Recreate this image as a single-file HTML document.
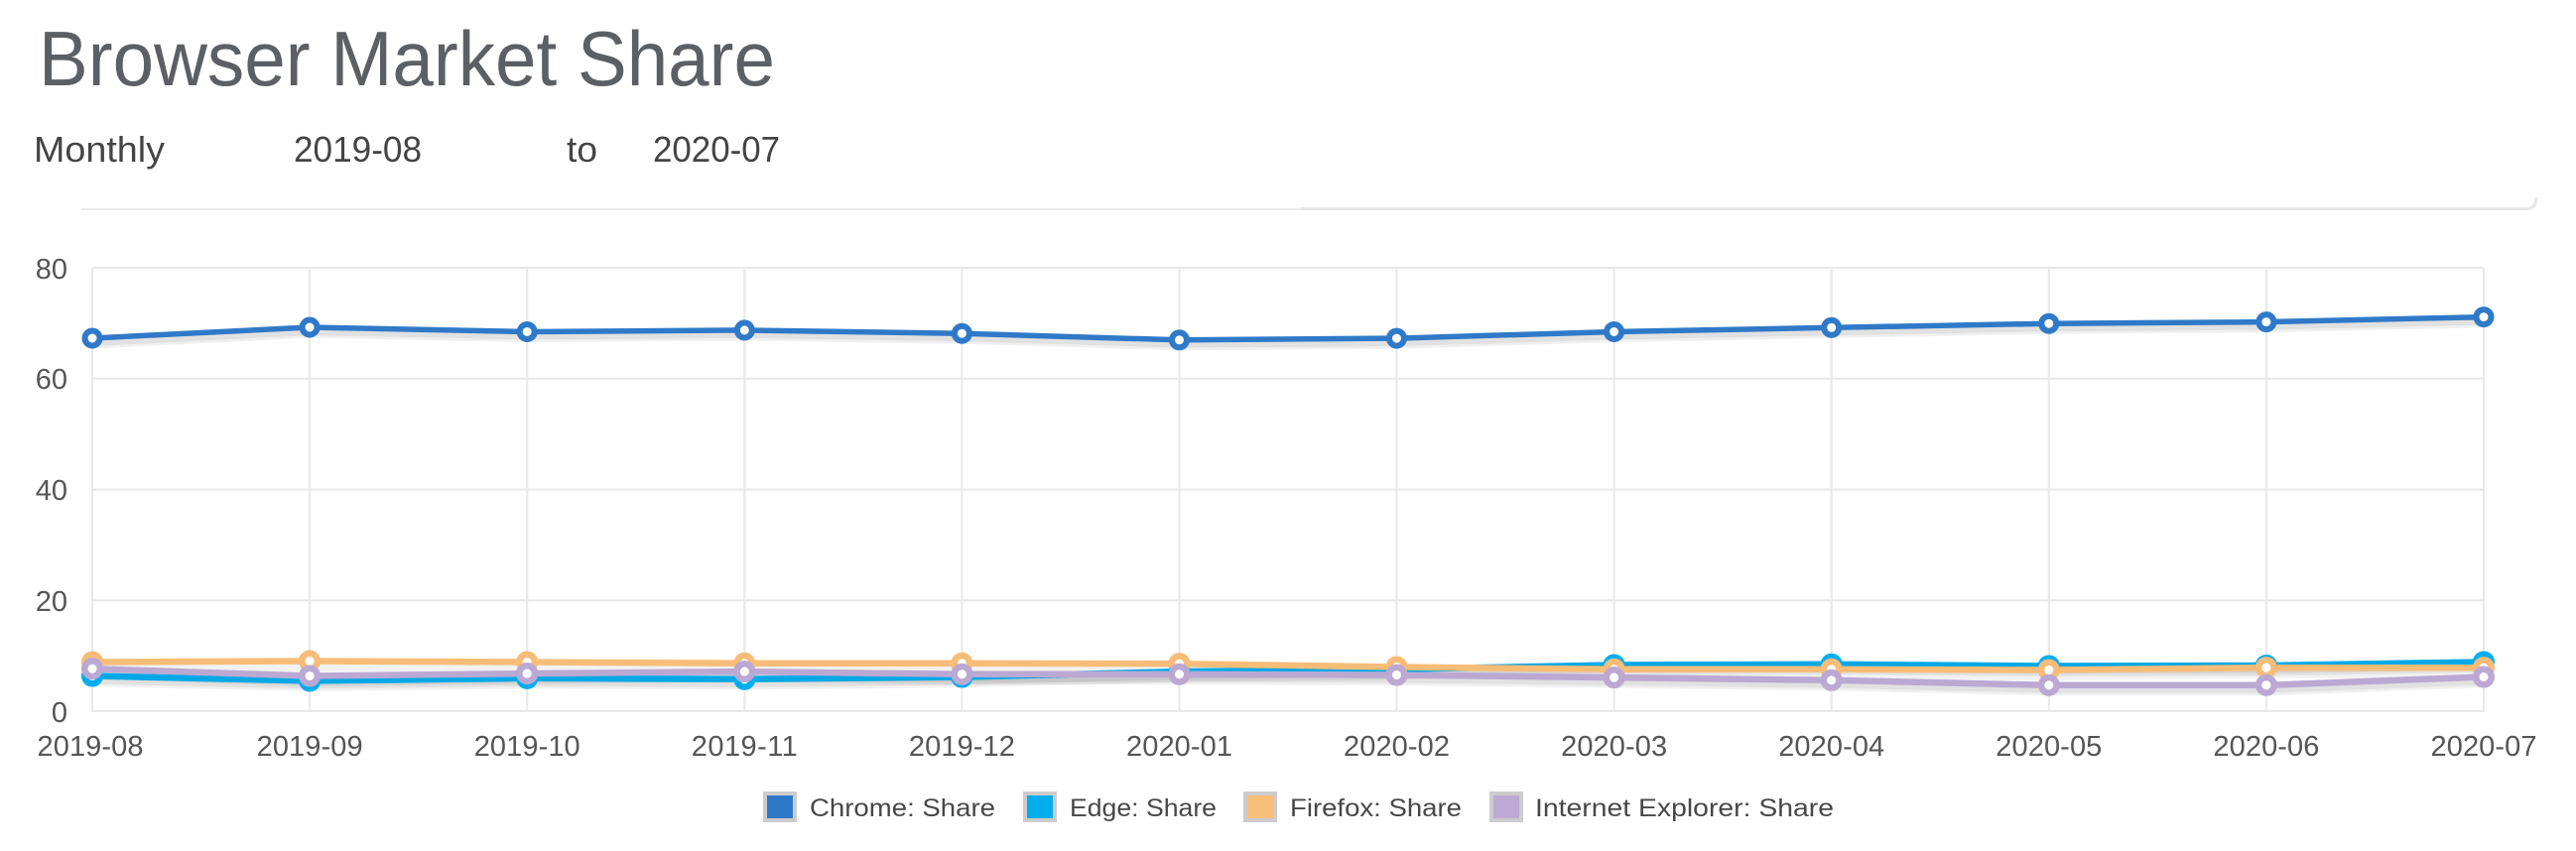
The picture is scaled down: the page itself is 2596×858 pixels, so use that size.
<!DOCTYPE html>
<html>
<head>
<meta charset="utf-8">
<style>
  html, body { margin: 0; padding: 0; background: #ffffff; }
  body { width: 2596px; height: 858px; overflow: hidden; }
  svg { display: block; }
  text { font-family: "Liberation Sans", "DejaVu Sans", sans-serif; }
</style>
</head>
<body>
<svg width="2596" height="858" viewBox="0 0 2596 858" xmlns="http://www.w3.org/2000/svg">
  <rect x="0" y="0" width="2596" height="858" fill="#ffffff"/>

  <!-- Title -->
  <text x="39" y="86" font-size="78" fill="#5c5f63" textLength="742" lengthAdjust="spacingAndGlyphs">Browser Market Share</text>

  <!-- Subtitle row -->
  <text x="34" y="163" font-size="36" fill="#444444" textLength="132" lengthAdjust="spacingAndGlyphs">Monthly</text>
  <text x="296" y="163" font-size="36" fill="#444444" textLength="129" lengthAdjust="spacingAndGlyphs">2019-08</text>
  <text x="571" y="163" font-size="36" fill="#444444" textLength="31" lengthAdjust="spacingAndGlyphs">to</text>
  <text x="658" y="163" font-size="36" fill="#444444" textLength="128" lengthAdjust="spacingAndGlyphs">2020-07</text>

  <!-- separator lines -->
  <line x1="82" y1="211" x2="1311" y2="211" stroke="#ececec" stroke-width="2"/>
  <path d="M1311 210.5 H2545 Q2556 210.5 2556 199" fill="none" stroke="#e6e6e6" stroke-width="3"/>

  <!-- Gridlines -->
  <g stroke="#e8e8e8" stroke-width="2" fill="none">
    <line x1="93" y1="270" x2="2503" y2="270"/>
    <line x1="93" y1="381.8" x2="2503" y2="381.8"/>
    <line x1="93" y1="493.5" x2="2503" y2="493.5"/>
    <line x1="93" y1="605.3" x2="2503" y2="605.3"/>
    <line x1="93" y1="717" x2="2503" y2="717"/>
    <line x1="93" y1="270" x2="93" y2="717"/>
    <line x1="312.1" y1="270" x2="312.1" y2="717"/>
    <line x1="531.2" y1="270" x2="531.2" y2="717"/>
    <line x1="750.3" y1="270" x2="750.3" y2="717"/>
    <line x1="969.4" y1="270" x2="969.4" y2="717"/>
    <line x1="1188.5" y1="270" x2="1188.5" y2="717"/>
    <line x1="1407.5" y1="270" x2="1407.5" y2="717"/>
    <line x1="1626.6" y1="270" x2="1626.6" y2="717"/>
    <line x1="1845.7" y1="270" x2="1845.7" y2="717"/>
    <line x1="2064.8" y1="270" x2="2064.8" y2="717"/>
    <line x1="2283.9" y1="270" x2="2283.9" y2="717"/>
    <line x1="2503" y1="270" x2="2503" y2="717"/>
  </g>

  <!-- Y axis labels -->
  <g font-size="29" fill="#555555" text-anchor="end">
    <text x="68" y="281">80</text>
    <text x="68" y="392">60</text>
    <text x="68" y="504">40</text>
    <text x="68" y="616">20</text>
    <text x="68" y="728">0</text>
  </g>

  <!-- X axis labels -->
  <g font-size="29" fill="#555555" text-anchor="middle" lengthAdjust="spacingAndGlyphs">
    <text x="91" y="762" textLength="107">2019-08</text>
    <text x="312.1" y="762" textLength="107">2019-09</text>
    <text x="531.2" y="762" textLength="107">2019-10</text>
    <text x="750.3" y="762" textLength="107">2019-11</text>
    <text x="969.4" y="762" textLength="107">2019-12</text>
    <text x="1188.5" y="762" textLength="107">2020-01</text>
    <text x="1407.5" y="762" textLength="107">2020-02</text>
    <text x="1626.6" y="762" textLength="107">2020-03</text>
    <text x="1845.7" y="762" textLength="107">2020-04</text>
    <text x="2064.8" y="762" textLength="107">2020-05</text>
    <text x="2283.9" y="762" textLength="107">2020-06</text>
    <text x="2503" y="762" textLength="107">2020-07</text>
  </g>

  <!-- Series definitions -->
  <defs>
    <polyline id="pChrome" points="93,341 312.1,330 531.2,334.5 750.3,332.9 969.4,336.2 1188.5,342.8 1407.5,341.1 1626.6,334.5 1845.7,330.3 2064.8,326.2 2283.9,324.6 2503,319.6"/>
    <polyline id="pEdge" points="93,681.5 312.1,686.4 531.2,683.8 750.3,684.8 969.4,682.5 1188.5,677.1 1407.5,674.8 1626.6,670.5 1845.7,669.8 2064.8,671.5 2283.9,671 2503,667.5"/>
    <polyline id="pFirefox" points="93,667.5 312.1,666.5 531.2,667.5 750.3,668.8 969.4,668.8 1188.5,669.2 1407.5,672.5 1626.6,674.8 1845.7,674.8 2064.8,675.5 2283.9,673.2 2503,673.2"/>
    <polyline id="pIE" points="93,674.2 312.1,681.5 531.2,679.1 750.3,677.1 969.4,679.8 1188.5,679.8 1407.5,680.5 1626.6,683.1 1845.7,685.8 2064.8,690.8 2283.9,690.8 2503,682.5"/>
  </defs>

  <!-- Shadows -->
  <g fill="none" stroke-linejoin="round" stroke-linecap="round" transform="translate(2,4)">
    <use href="#pChrome" stroke="rgba(0,0,0,0.06)" stroke-width="13"/>
    <use href="#pChrome" stroke="rgba(0,0,0,0.06)" stroke-width="8"/>
    <use href="#pEdge" stroke="rgba(0,0,0,0.06)" stroke-width="13"/>
    <use href="#pEdge" stroke="rgba(0,0,0,0.06)" stroke-width="8"/>
    <use href="#pFirefox" stroke="rgba(0,0,0,0.05)" stroke-width="13"/>
    <use href="#pIE" stroke="rgba(0,0,0,0.06)" stroke-width="13"/>
    <use href="#pIE" stroke="rgba(0,0,0,0.06)" stroke-width="8"/>
  </g>

  <!-- Lines -->
  <g fill="none" stroke-linejoin="round" stroke-linecap="round">
    <use href="#pChrome" stroke="#2f79c8" stroke-width="5.5"/>
    <use href="#pEdge" stroke="#00a8e6" stroke-width="6.5"/>
    <use href="#pFirefox" stroke="#f7bd78" stroke-width="6.5"/>
    <use href="#pIE" stroke="#bba8d3" stroke-width="6.5"/>
  </g>

  <!-- Markers -->
  <g fill="#ffffff" stroke="#2f79c8" stroke-width="6">
    <circle cx="93" cy="341" r="7.5"/><circle cx="312.1" cy="330" r="7.5"/><circle cx="531.2" cy="334.5" r="7.5"/>
    <circle cx="750.3" cy="332.9" r="7.5"/><circle cx="969.4" cy="336.2" r="7.5"/><circle cx="1188.5" cy="342.8" r="7.5"/>
    <circle cx="1407.5" cy="341.1" r="7.5"/><circle cx="1626.6" cy="334.5" r="7.5"/><circle cx="1845.7" cy="330.3" r="7.5"/>
    <circle cx="2064.8" cy="326.2" r="7.5"/><circle cx="2283.9" cy="324.6" r="7.5"/><circle cx="2503" cy="319.6" r="7.5"/>
  </g>
  <g fill="#ffffff" stroke="#00aeef" stroke-width="6.5">
    <circle cx="93" cy="681.5" r="7.8"/><circle cx="312.1" cy="686.4" r="7.8"/><circle cx="531.2" cy="683.8" r="7.8"/>
    <circle cx="750.3" cy="684.8" r="7.8"/><circle cx="969.4" cy="682.5" r="7.8"/><circle cx="1188.5" cy="677.1" r="7.8"/>
    <circle cx="1407.5" cy="674.8" r="7.8"/><circle cx="1626.6" cy="670.5" r="7.8"/><circle cx="1845.7" cy="669.8" r="7.8"/>
    <circle cx="2064.8" cy="671.5" r="7.8"/><circle cx="2283.9" cy="671" r="7.8"/><circle cx="2503" cy="667.5" r="7.8"/>
  </g>
  <g fill="#ffffff" stroke="#f7bd78" stroke-width="6.5">
    <circle cx="93" cy="667.5" r="7.8"/><circle cx="312.1" cy="666.5" r="7.8"/><circle cx="531.2" cy="667.5" r="7.8"/>
    <circle cx="750.3" cy="668.8" r="7.8"/><circle cx="969.4" cy="668.8" r="7.8"/><circle cx="1188.5" cy="669.2" r="7.8"/>
    <circle cx="1407.5" cy="672.5" r="7.8"/><circle cx="1626.6" cy="674.8" r="7.8"/><circle cx="1845.7" cy="674.8" r="7.8"/>
    <circle cx="2064.8" cy="675.5" r="7.8"/><circle cx="2283.9" cy="673.2" r="7.8"/><circle cx="2503" cy="673.2" r="7.8"/>
  </g>
  <g fill="#ffffff" stroke="#bba8d3" stroke-width="6.5">
    <circle cx="93" cy="674.2" r="7.8"/><circle cx="312.1" cy="681.5" r="7.8"/><circle cx="531.2" cy="679.1" r="7.8"/>
    <circle cx="750.3" cy="677.1" r="7.8"/><circle cx="969.4" cy="679.8" r="7.8"/><circle cx="1188.5" cy="679.8" r="7.8"/>
    <circle cx="1407.5" cy="680.5" r="7.8"/><circle cx="1626.6" cy="683.1" r="7.8"/><circle cx="1845.7" cy="685.8" r="7.8"/>
    <circle cx="2064.8" cy="690.8" r="7.8"/><circle cx="2283.9" cy="690.8" r="7.8"/><circle cx="2503" cy="682.5" r="7.8"/>
  </g>

  <!-- Legend -->
  <g stroke="#cccccc" stroke-width="4">
    <rect x="771" y="800" width="30" height="27" fill="#2e79c7"/>
    <rect x="1033" y="800" width="30" height="27" fill="#00aeef"/>
    <rect x="1255" y="800" width="30" height="27" fill="#f7be78"/>
    <rect x="1503" y="800" width="30" height="27" fill="#bda9d3"/>
  </g>
  <g font-size="25" fill="#474747">
    <text x="816" y="823" textLength="187" lengthAdjust="spacingAndGlyphs">Chrome: Share</text>
    <text x="1078" y="823" textLength="148" lengthAdjust="spacingAndGlyphs">Edge: Share</text>
    <text x="1300" y="823" textLength="173" lengthAdjust="spacingAndGlyphs">Firefox: Share</text>
    <text x="1547" y="823" textLength="301" lengthAdjust="spacingAndGlyphs">Internet Explorer: Share</text>
  </g>
</svg>
</body>
</html>
